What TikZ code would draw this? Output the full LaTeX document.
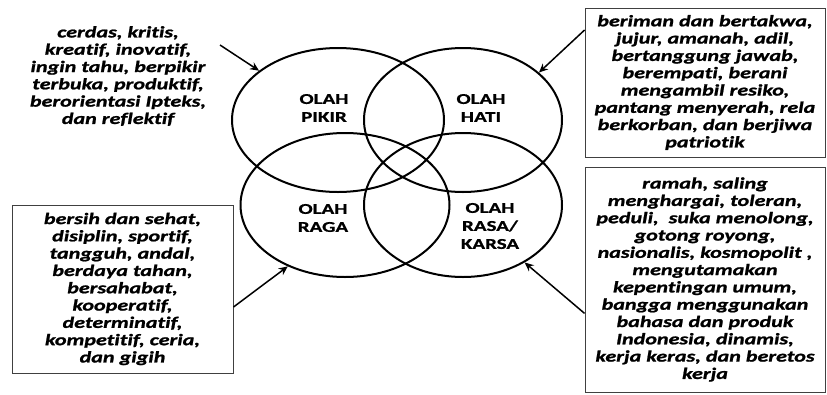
\documentclass[tikz,border=0pt]{standalone}
\usepackage{fontspec}
\setmainfont{Carlito}
\newfontfamily\txtfont[FakeStretch=1.38,FakeBold=1.2,Ligatures=NoCommon]{Carlito}
\newfontfamily\lblfont[FakeStretch=1.4,FakeBold=0.8,Ligatures=NoCommon]{Carlito}
\usetikzlibrary{shapes.geometric,arrows.meta,calc}
\begin{document}
\begin{tikzpicture}[x=1pt,y=-1pt,
  venn/.style={ellipse, draw, line width=2pt, inner sep=0pt},
  lbl/.style={align=center, inner sep=0pt, font=\lblfont\fontsize{15}{18}\selectfont\bfseries},
  desc/.style={align=center, inner sep=0pt, font=\txtfont\fontsize{16}{17.3}\selectfont\bfseries\itshape},
  descbox/.style={draw=black!75, line width=0.9pt},
  arr/.style={-{Stealth[length=9pt,width=8pt]}, line width=1.5pt}]
\fill[white] (0,0) rectangle (827,394);
\useasboundingbox (0,0) rectangle (827,394);
% ellipses
\node[venn, minimum width=212, minimum height=144] (pikir) at (338,120) {};
\node[venn, minimum width=198, minimum height=144] (hati) at (463,120) {};
\node[venn, minimum width=209, minimum height=144] (raga) at (345,205) {};
\node[venn, minimum width=198, minimum height=144] (rasa) at (463,205) {};
% labels
\node[lbl] (lpikir) at (324,108) {OLAH\\PIKIR};
\node[lbl] (lhati) at (481,108) {OLAH\\HATI};
\node[lbl] (lraga) at (323,218) {OLAH\\RAGA};
\node[lbl] (lrasa) at (490,226) {OLAH\\RASA/\\KARSA};
% descriptions
\node[desc] (ptext) at (118,76) {cerdas, kritis,\\kreatif, inovatif,\\ingin tahu, berpikir\\terbuka, produktif,\\berorientasi Ipteks,\\dan reflektif};
\node[desc, descbox, minimum width=240, minimum height=149] (hbox) at (705,82.5) {beriman dan bertakwa,\\jujur, amanah, adil,\\bertanggung jawab,\\berempati, berani\\mengambil resiko,\\pantang menyerah, rela\\berkorban, dan berjiwa\\patriotik};
\node[desc, descbox, minimum width=221, minimum height=168] (gbox) at (122.5,289) {bersih dan sehat,\\disiplin, sportif,\\tangguh, andal,\\berdaya tahan,\\bersahabat,\\kooperatif,\\determinatif,\\kompetitif, ceria,\\dan gigih};
\node[desc, descbox, minimum width=240, minimum height=225] (rbox) at (705,279.5) {ramah, saling\\menghargai, toleran,\\peduli,\ \ suka menolong,\\gotong royong,\\nasionalis, kosmopolit ,\\mengutamakan\\kepentingan umum,\\bangga menggunakan\\bahasa dan produk\\Indonesia, dinamis,\\kerja keras, dan beretos\\kerja};
% arrows
\coordinate (s1) at (220,45);
\draw[arr] (s1) -- (pikir.148);
\draw[arr] ($(hbox.north west)!0.15!(hbox.south west)$) -- (hati.32);
\draw[arr] ($(gbox.north east)!0.607!(gbox.south east)$) -- (raga.227);
\draw[arr] ($(rbox.north west)!0.65!(rbox.south west)$) -- (rasa.317);
\end{tikzpicture}
\end{document}
